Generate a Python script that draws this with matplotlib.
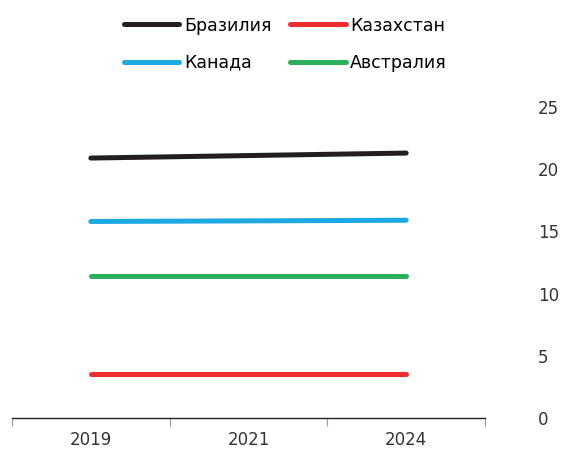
import matplotlib.pyplot as plt
from matplotlib.ticker import FixedLocator

years = ['2019', '2021', '2024']
brazil = [20.9, 21.1, 21.3]
kazakhstan = [3.5, 3.5, 3.5]
canada = [15.8, 15.85, 15.9]
australia = [11.4, 11.4, 11.4]

series = [
    ('Бразилия', brazil, '#231f20'),
    ('Казахстан', kazakhstan, '#ee2d2f'),
    ('Канада', canada, '#1daae2'),
    ('Австралия', australia, '#2bb05a'),
]

plt.rcParams['font.family'] = ['DejaVu Sans']

fig = plt.figure(figsize=(5.63, 4.5), dpi=100)
ax = fig.add_axes([0.0213, 0.0711, 0.8402, 0.691])

x = list(range(len(years)))
lines = {}
for name, vals, color in series:
    ln, = ax.plot(x, vals, color=color, lw=3.6, solid_capstyle='round', label=name)
    lines[name] = ln

ax.set_xlim(-0.5, len(years) - 0.5)
ax.set_ylim(0, 25)
ax.set_yticks([0, 5, 10, 15, 20, 25])
ax.yaxis.tick_right()
ax.tick_params(axis='y', length=0, pad=38, labelsize=12, labelcolor='#333333')

ax.set_xticks(x)
ax.set_xticklabels(years)
ax.xaxis.set_minor_locator(FixedLocator([-0.5, 0.5, 1.5, 2.5]))
ax.tick_params(axis='x', which='major', length=0, pad=9, labelsize=12, labelcolor='#333333')
ax.tick_params(axis='x', which='minor', length=6, width=0.8, color='#999999')

for side in ('top', 'left', 'right'):
    ax.spines[side].set_visible(False)
ax.spines['bottom'].set_color('#222222')
ax.spines['bottom'].set_linewidth(1.0)

order = ['Бразилия', 'Канада', 'Казахстан', 'Австралия']
fig.legend([lines[n] for n in order], order, ncol=2, loc='upper center',
           bbox_to_anchor=(0.507, 0.998), frameon=False, fontsize=12.5,
           handlelength=3.2, handletextpad=0.25, columnspacing=1.1,
           labelspacing=1.1)

fig.savefig('out.png', dpi=100)
